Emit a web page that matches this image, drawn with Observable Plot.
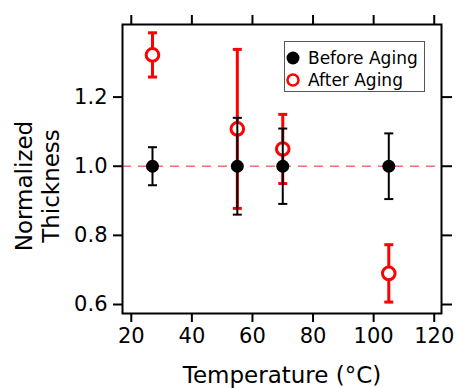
<!DOCTYPE html>
<html>
<head>
<meta charset="utf-8">
<script src="https://cdn.jsdelivr.net/npm/d3@7"></script>
<script src="https://cdn.jsdelivr.net/npm/@observablehq/plot@0.6"></script>
<style>
  html, body { margin: 0; padding: 0; background: #fff; }
  #wrap { position: relative; width: 456px; height: 388px; }
  #legend {
    position: absolute; left: 284px; top: 41px; width: 139px; height: 49px;
    border: 1.5px solid #555; background: #fff;
    font-family: "DejaVu Sans", sans-serif; font-size: 17px; color: #000;
  }
  #legend .row { position: absolute; left: 0; height: 22px; line-height: 22px; white-space: nowrap; }
  #legend svg { position: absolute; left: 0; top: 0; }
  #legend span { position: absolute; left: 23px; top: 0; }
</style>
</head>
<body>
<div id="wrap"></div>
<script>
// Data
const temps = [27, 55, 70, 105];
const beforeValues = [1.0, 1.0, 1.0, 1.0];
const beforeErrors = [0.055, 0.14, 0.109, 0.095];
const afterValues = [1.322, 1.108, 1.05, 0.69];
const afterErrors = [0.064, 0.23, 0.10, 0.083];
const xTicks = [20, 40, 60, 80, 100, 120];
const yTicks = [0.6, 0.8, 1.0, 1.2];
const seriesNames = ["Before Aging", "After Aging"];
const xTitle = "Temperature (°C)";
const yTitle = "Normalized\nThickness";
const referenceLevel = [1.0];

const before = temps.map((t, i) => ({x: t, y: beforeValues[i], lo: beforeValues[i] - beforeErrors[i], hi: beforeValues[i] + beforeErrors[i]}));
const after = temps.map((t, i) => ({x: t, y: afterValues[i], lo: afterValues[i] - afterErrors[i], hi: afterValues[i] + afterErrors[i]}));

const capSymbol = {
  draw(ctx, size) {
    const w = Math.sqrt(size / Math.PI);
    ctx.moveTo(-w, 0);
    ctx.lineTo(w, 0);
  }
};

const RED = "#ff0000";
const font = "DejaVu Sans, sans-serif";

const chart = Plot.plot({
  width: 456,
  height: 388,
  marginLeft: 122,
  marginRight: 15,
  marginTop: 24,
  marginBottom: 75,
  style: {fontFamily: font, background: "white", overflow: "visible"},
  x: {domain: [17.1, 122.4], axis: null},
  y: {domain: [0.574, 1.41], axis: null},
  marks: [
    Plot.ruleY(referenceLevel, {stroke: "#f07070", strokeWidth: 1.6, strokeDasharray: "9,7"}),
    // After aging error bars
    Plot.ruleX(after, {x: "x", y1: "lo", y2: "hi", stroke: RED, strokeWidth: 3}),
    Plot.dot(after, {x: "x", y: "lo", symbol: capSymbol, r: 4.5, stroke: RED, strokeWidth: 3, fill: "none"}),
    Plot.dot(after, {x: "x", y: "hi", symbol: capSymbol, r: 4.5, stroke: RED, strokeWidth: 3, fill: "none"}),
    Plot.dot(after, {x: "x", y: "y", r: 6.3, stroke: RED, strokeWidth: 3, fill: "white"}),
    // Before aging error bars
    Plot.ruleX(before, {x: "x", y1: "lo", y2: "hi", stroke: "black", strokeWidth: 2}),
    Plot.dot(before, {x: "x", y: "lo", symbol: capSymbol, r: 4.5, stroke: "black", strokeWidth: 2, fill: "none"}),
    Plot.dot(before, {x: "x", y: "hi", symbol: capSymbol, r: 4.5, stroke: "black", strokeWidth: 2, fill: "none"}),
    Plot.dot(before, {x: "x", y: "y", r: 6.5, fill: "black", stroke: "none"}),
    // Axes
    Plot.axisX(xTicks, {anchor: "bottom", tickSize: 9, tickPadding: 6, strokeWidth: 2, fontSize: 21, label: null, tickFormat: d => String(d), fill: "black"}),
    Plot.axisX(xTicks, {anchor: "top", tickSize: 10, strokeWidth: 2, text: null, label: null}),
    Plot.axisY(yTicks, {anchor: "left", tickSize: 9, tickPadding: 6, strokeWidth: 2, fontSize: 21, label: null, tickFormat: d3.format(".1f"), fill: "black"}),
    Plot.axisY(yTicks, {anchor: "right", tickSize: 10, strokeWidth: 2, text: null, label: null}),
    Plot.frame({stroke: "black", strokeWidth: 2}),
    // Titles
    Plot.text([xTitle], {frameAnchor: "bottom", dy: 62, fontSize: 23, fill: "black", textAnchor: "middle", lineAnchor: "middle"}),
    Plot.text([yTitle], {frameAnchor: "left", dx: -86, dy: 17, rotate: -90, fontSize: 23, lineHeight: 1.2, fill: "black", textAnchor: "middle", lineAnchor: "middle"})
  ]
});

const wrap = document.getElementById("wrap");
wrap.appendChild(chart);

// Legend
const legend = document.createElement("div");
legend.id = "legend";
const rows = [
  {name: seriesNames[0], fill: "black", stroke: "none", sw: 0, r: 6.5},
  {name: seriesNames[1], fill: "white", stroke: RED, sw: 2.5, r: 5.5}
];
rows.forEach((r, i) => {
  const row = document.createElement("div");
  row.className = "row";
  row.style.top = (5 + i * 21.5) + "px";
  row.innerHTML = `<svg width="20" height="22"><circle cx="8" cy="11" r="${r.r}" fill="${r.fill}" stroke="${r.stroke}" stroke-width="${r.sw}"/></svg><span>${r.name}</span>`;
  legend.appendChild(row);
});
wrap.appendChild(legend);
</script>
</body>
</html>
